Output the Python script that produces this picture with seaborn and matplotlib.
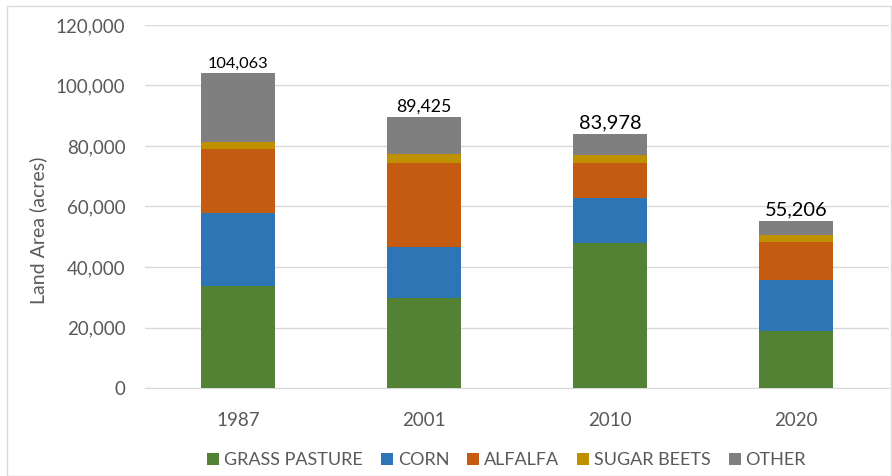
import numpy as np
import pandas as pd
import matplotlib
matplotlib.use('Agg')
import matplotlib.pyplot as plt
from matplotlib.patches import Rectangle
import seaborn as sns

# Data (acres)
years = ['1987', '2001', '2010', '2020']
crops = ['GRASS PASTURE', 'CORN', 'ALFALFA', 'SUGAR BEETS', 'OTHER']
grass_pasture = [33800, 29600, 47900, 18900]
corn = [24100, 17000, 15000, 16800]
alfalfa = [21000, 27800, 11500, 12600]
sugar_beets = [2300, 3100, 2600, 2300]
other = [22863, 11925, 6978, 4606]
totals = [104063, 89425, 83978, 55206]
yticks = [0, 20000, 40000, 60000, 80000, 100000, 120000]

colors = ['#548235', '#2E75B6', '#C55A11', '#BF9000', '#7F7F7F']
label_sizes = [11.8, 12.7, 14.4, 14.4]

df = pd.DataFrame({'Year': years, 'GRASS PASTURE': grass_pasture, 'CORN': corn,
                   'ALFALFA': alfalfa, 'SUGAR BEETS': sugar_beets, 'OTHER': other})
# cumulative heights for stacking (draw tallest first, then overlay)
cum = df[crops].cumsum(axis=1)
cum['Year'] = df['Year']

sns.set_style('white')
plt.rcParams['font.family'] = ['Lato', 'DejaVu Sans']

fig = plt.figure(figsize=(8.92, 4.76), dpi=100)
ax = fig.add_axes([145 / 892, 1 - 388 / 476, 744 / 892, 363 / 476])

for crop, col in reversed(list(zip(crops, colors))):
    sns.barplot(data=cum, x='Year', y=crop, color=col, width=0.40,
                saturation=1, ax=ax, label=crop, zorder=3, linewidth=0)

# Totals on top of bars
top = ax.containers[0]
txts = ax.bar_label(top, labels=[f'{t:,}' for t in totals], padding=2, color='black')
for t, fs in zip(txts, label_sizes):
    t.set_fontsize(fs)

ax.set_ylim(0, 120000)
ax.set_xlim(-0.5, 3.5)
ax.set_yticks(yticks)
ax.set_yticklabels([f'{v:,}' for v in yticks])
ax.yaxis.grid(True, color='#D9D9D9', linewidth=1, zorder=0)
ax.set_axisbelow(True)
for s in ['top', 'right', 'left']:
    ax.spines[s].set_visible(False)
ax.spines['bottom'].set_color('#D9D9D9')
ax.tick_params(axis='both', length=0, labelsize=13.5, labelcolor='#595959')
ax.tick_params(axis='x', pad=17)
ax.tick_params(axis='y', pad=14)
ax.set_xlabel('')
ax.set_ylabel('Land Area (acres)', fontsize=14, color='#595959')
ax.yaxis.set_label_coords((47 - 145) / 744, 1 - (230 - 25) / 363)

# Legend in the original order
handles, labels = ax.get_legend_handles_labels()
order = [labels.index(c) for c in crops]
fig.legend([handles[i] for i in order], crops, loc='center', bbox_to_anchor=(0.568, 1 - 460 / 476),
           ncol=5, frameon=False, fontsize=13, labelcolor='#595959', handlelength=0.65,
           handleheight=0.65, handletextpad=0.28, columnspacing=1.0)
if ax.get_legend():
    ax.get_legend().remove()

# light border round the chart area
fig.patches.append(Rectangle((7 / 892, 0), 1 - 8 / 892, 1 - 6 / 476, transform=fig.transFigure,
                             fill=False, edgecolor='#D9D9D9', linewidth=1))

fig.savefig('out.png', dpi=100)
